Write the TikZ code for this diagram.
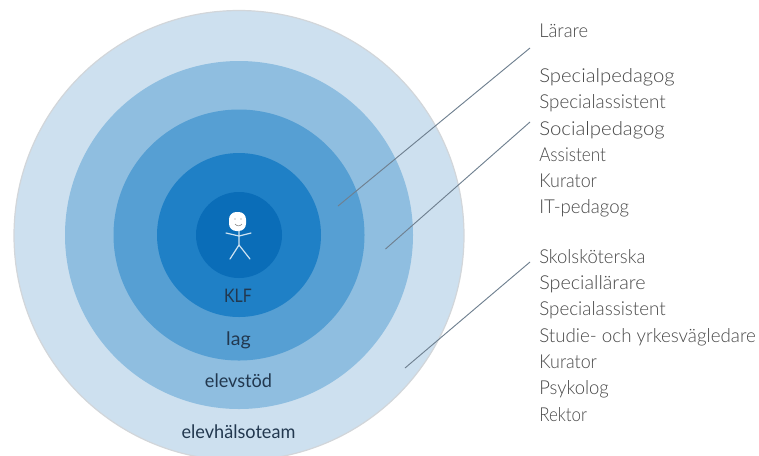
\documentclass[tikz,border=0pt]{standalone}
\usepackage{fontspec}
\usepackage{graphicx}
\setmainfont{Lato Light}[BoldFont={Lato}]
\definecolor{ringa}{HTML}{CDE0EF}
\definecolor{ringb}{HTML}{8FBEE0}
\definecolor{ringc}{HTML}{569FD3}
\definecolor{ringd}{HTML}{1F80C6}
\definecolor{ringe}{HTML}{0A6DB8}
\definecolor{rimgrey}{HTML}{D2D6DA}
\definecolor{inktext}{HTML}{22384F}
\definecolor{greytext}{HTML}{484848}
\definecolor{leader}{HTML}{6F8090}
\newcommand{\fitx}[2]{\scalebox{#1}[1]{#2}}
\tikzset{
  x=0.75pt,y=-0.75pt,
  ringlabel/.style={text=inktext,font=\fontsize{14pt}{16pt}\selectfont\bfseries,inner sep=0pt,anchor=base},
  rolelabel/.style={text=greytext,font=\fontsize{14.4pt}{16pt}\selectfont,inner sep=0pt,anchor=base west},
  leaderline/.style={draw=leader,line width=0.7pt},
  stick/.style={draw=white!78!ringd,line width=0.9pt,line cap=round,line join=round},
}
\begin{document}
\begin{tikzpicture}
\useasboundingbox (0,0) rectangle (759,455);
\begin{scope}
\clip (0,0) rectangle (759,455);
\fill[ringa,draw=rimgrey,line width=0.9pt] (239,235.5) circle[radius=225];
\fill[ringb] (239,235) circle[radius=174];
\fill[ringc] (239,235) circle[radius=125.5];
\fill[ringd] (239,235) circle[radius=82];
\fill[ringe] (239,235) circle[radius=43];
\end{scope}
% stick figure
\fill[white,rounded corners=5.5pt] (229,212) rectangle (246,231);
\fill[gray] (235,219) circle[radius=0.7] (241,219) circle[radius=0.7];
\draw[gray,line width=0.4pt] (235,224) .. controls (237,226.5) and (240,226.5) .. (242,224);
\draw[stick] (239,231) -- (239,245) -- (230,259);
\draw[stick] (239,245) -- (250,259);
\draw[stick] (226,233) -- (239,236) -- (251,233);
% ring labels
\node[ringlabel] (klf) at (238,302) {\fitx{.85}{KLF}};
\node[ringlabel] (lag) at (238.5,345) {\fitx{1.05}{lag}};
\node[ringlabel] (stod) at (238.5,387) {\fitx{.97}{elevstöd}};
\node[ringlabel] (team) at (238.5,438) {\fitx{.97}{elevhälsoteam}};
% role labels
\node[rolelabel] (larare) at (539,37) {\fitx{.956}{Lärare}};
\node[rolelabel] (a1) at (539,82) {\fitx{1.057}{Specialpedagog}};
\node[rolelabel] (a2) at (539,108.5) {\fitx{.98}{Specialassistent}};
\node[rolelabel] (a3) at (539,135) {\fitx{1.06}{Socialpedagog}};
\node[rolelabel] (a4) at (539,161) {\fitx{.89}{Assistent}};
\node[rolelabel] (a5) at (539,187.5) {\fitx{.93}{Kurator}};
\node[rolelabel] (a6) at (539,213.5) {\fitx{.97}{IT-pedagog}};
\node[rolelabel] (b1) at (539,263) {\fitx{.96}{Skolsköterska}};
\node[rolelabel] (b2) at (539,289) {\fitx{1.03}{Speciallärare}};
\node[rolelabel] (b3) at (539,315) {\fitx{.98}{Specialassistent}};
\node[rolelabel] (b4) at (539,342) {\fitx{.977}{Studie- och yrkesvägledare}};
\node[rolelabel] (b5) at (539,368) {\fitx{.93}{Kurator}};
\node[rolelabel] (b6) at (539,394) {\fitx{.96}{Psykolog}};
\node[rolelabel] (b7) at (539,421) {\fitx{.88}{Rektor}};
% leaders
\coordinate (l1s) at (530,48);
\coordinate (l1e) at (338,206);
\coordinate (l2s) at (530,122);
\coordinate (l2e) at (385.5,249);
\coordinate (l3s) at (530,262);
\coordinate (l3e) at (405,368);
\draw[leaderline] (l1s) -- (l1e);
\draw[leaderline] (l2s) -- (l2e);
\draw[leaderline] (l3s) -- (l3e);
\end{tikzpicture}
\end{document}
